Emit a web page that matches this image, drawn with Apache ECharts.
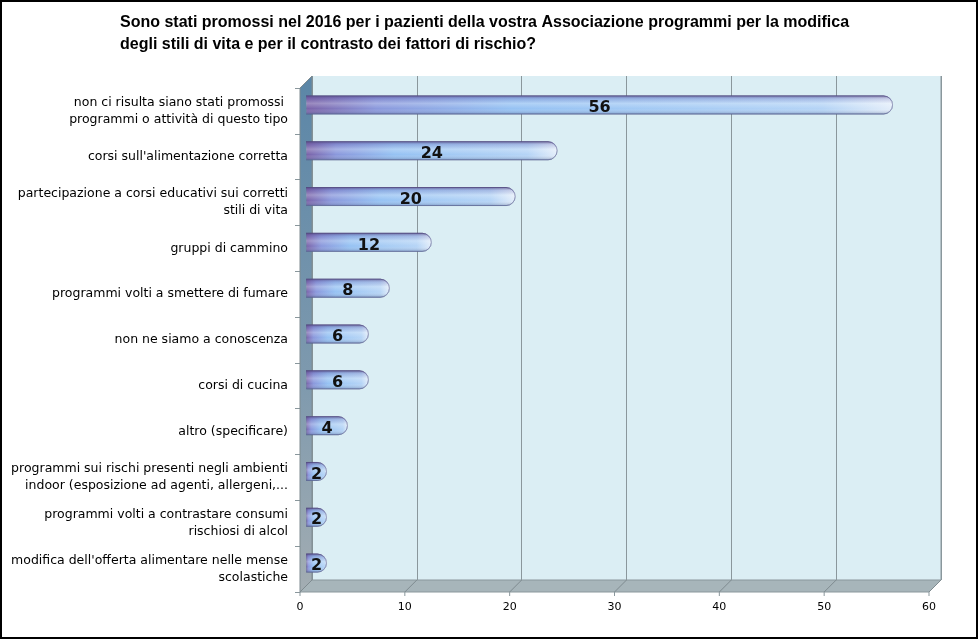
<!DOCTYPE html>
<html><head><meta charset="utf-8">
<script src="https://cdn.jsdelivr.net/npm/echarts@6/dist/echarts.min.js"></script>
<style>html,body{margin:0;padding:0;background:#fff}#c{width:978px;height:639px}</style>
</head><body><div id="c"></div>
<script>
const titleText = "Sono stati promossi nel 2016 per i pazienti della vostra Associazione programmi per la modifica\ndegli stili di vita e per il contrasto dei fattori di rischio?";
const categories = [
  "non ci risulta siano stati promossi \nprogrammi o attività di questo tipo",
  "corsi sull'alimentazione corretta",
  "partecipazione a corsi educativi sui corretti\nstili di vita",
  "gruppi di cammino",
  "programmi volti a smettere di fumare",
  "non ne siamo a conoscenza",
  "corsi di cucina",
  "altro (specificare)",
  "programmi sui rischi presenti negli ambienti\nindoor (esposizione ad agenti, allergeni,...",
  "programmi volti a contrastare consumi\nrischiosi di alcol",
  "modifica dell'offerta alimentare nelle mense\nscolastiche"
];
const values = [56, 24, 20, 12, 8, 6, 6, 4, 2, 2, 2];
const xTicks = [0, 10, 20, 30, 40, 50, 60];

const W = 978, H = 639;
// front plane
const FL = 300, FR = 929, FT = 88, FB = 592;
const D = 12; // depth offset
const chart = echarts.init(document.getElementById('c'), null, {renderer: 'canvas'});

const barColor = new echarts.graphic.LinearGradient(0, 0, 1, 0, [
  {offset: 0, color: '#7a62a8'},
  {offset: 0.12, color: '#8a98dc'},
  {offset: 0.35, color: '#96c2f3'},
  {offset: 0.88, color: '#b5d4f6'},
  {offset: 1, color: '#e4eefa'}
]);
const overlay = new echarts.graphic.LinearGradient(0, 0, 0, 1, [
  {offset: 0, color: 'rgba(60,40,100,0.65)'},
  {offset: 0.18, color: 'rgba(110,100,170,0.22)'},
  {offset: 0.42, color: 'rgba(255,255,255,0.25)'},
  {offset: 0.7, color: 'rgba(255,255,255,0.0)'},
  {offset: 1, color: 'rgba(50,70,120,0.4)'}
]);

const xMax = xTicks[xTicks.length - 1];
const option = {
  animation: false,
  backgroundColor: '#fff',
  grid: [
    {left: FL + D, right: W - FR - D, top: FT - D, bottom: H - FB + D, show: true, backgroundColor: '#dbeef4', borderWidth: 0},
    {left: FL + D/2, right: W - FR - D/2, top: FT - D/2, bottom: H - FB + D/2},
    {left: FL, right: W - FR, top: FT, bottom: H - FB}
  ],
  xAxis: [
    {gridIndex: 0, type: 'value', min: 0, max: xMax, interval: 10, axisLabel: {show: false}, axisLine: {show: false}, axisTick: {show: false},
     splitLine: {show: true, lineStyle: {color: '#8a979c', width: 1}}},
    {gridIndex: 1, type: 'value', min: 0, max: xMax, interval: 10, show: false},
    {gridIndex: 2, type: 'value', min: 0, max: xMax, interval: 10, axisLine: {show: false}, axisTick: {show: false}, splitLine: {show: false},
     axisLabel: {color: '#000', fontSize: 11, fontFamily: 'DejaVu Sans', margin: 10}}
  ],
  yAxis: [
    {gridIndex: 0, type: 'category', data: categories, inverse: true, show: false},
    {gridIndex: 1, type: 'category', data: categories, inverse: true, show: false},
    {gridIndex: 2, type: 'category', data: categories, inverse: true,
     axisLine: {show: true, lineStyle: {color: '#8a979c'}},
     axisTick: {show: true, length: 5, lineStyle: {color: '#8a979c'}},
     axisLabel: {color: '#000', fontSize: 12.5, fontFamily: 'DejaVu Sans', margin: 12, lineHeight: 17, align: 'right'}}
  ],
  series: [
    {type: 'bar', xAxisIndex: 1, yAxisIndex: 1, data: values, barWidth: 19,
     itemStyle: {color: barColor, borderRadius: [0, 10, 10, 0], borderColor: 'rgba(110,115,160,0.55)', borderWidth: 1}},
    {type: 'bar', xAxisIndex: 1, yAxisIndex: 1, data: values, barWidth: 19, barGap: '-100%',
     itemStyle: {color: overlay, borderRadius: [0, 10, 10, 0]},
     label: {show: true, position: 'inside', offset: [0, 3], color: '#111', fontSize: 16, fontWeight: 'bold', fontFamily: 'DejaVu Sans'}}
  ]
};
chart.setOption(option);

// 3D decoration: floor and left wall, built from axis scale
const g = [];
g.push({type: 'polygon', shape: {points: [[FL, FB], [FR, FB], [FR + D, FB - D], [FL + D, FB - D]]},
  style: {fill: '#a7b5ba', stroke: '#8a979c', lineWidth: 1}, z: 1});
xTicks.forEach(function (t) {
  const px = chart.convertToPixel({xAxisIndex: 2}, t);
  g.push({type: 'line', shape: {x1: px, y1: FB, x2: px + D, y2: FB - D}, style: {stroke: '#7f8b90', lineWidth: 1}, z: 2});
  g.push({type: 'line', shape: {x1: px, y1: FB, x2: px, y2: FB + 4}, style: {stroke: '#8a979c', lineWidth: 1}, z: 2});
});
g.push({type: 'line', shape: {x1: FR + D, y1: FT - D, x2: FR + D, y2: FB - D}, style: {stroke: '#8a979c', lineWidth: 1}, z: 2});
g.push({type: 'polygon', shape: {points: [[FL, FT], [FL + D, FT - D], [FL + D, FB - D], [FL, FB]]},
  style: {fill: new echarts.graphic.LinearGradient(0, 0, 0, 1, [{offset: 0, color: '#5b86a7'}, {offset: 0.6, color: '#7f9aae'}, {offset: 1, color: '#a3adb2'}]), stroke: '#7f8b90', lineWidth: 1}, z: 2});
g.push({type: 'text', left: 120, top: 12, style: {text: titleText, fill: '#000', fontSize: 16, fontWeight: 'bold', fontFamily: "'Liberation Sans', sans-serif", lineHeight: 22}, z: 5});
g.push({type: 'rect', shape: {x: 1, y: 1, width: W - 2, height: H - 2}, style: {fill: 'none', stroke: '#000', lineWidth: 2}, z: 10});
chart.setOption({graphic: g});
</script></body></html>
